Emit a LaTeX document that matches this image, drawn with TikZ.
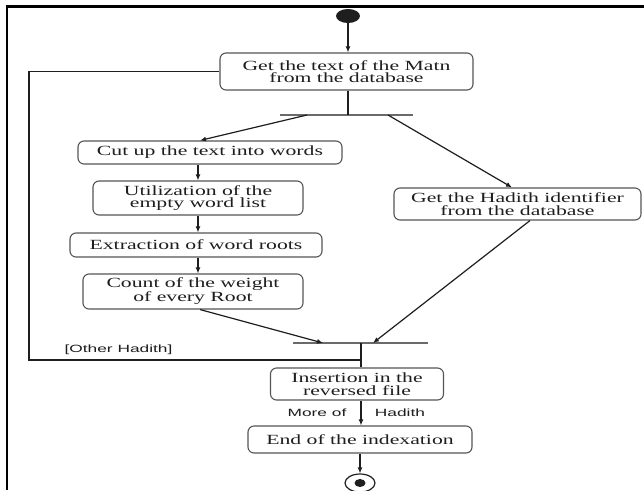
\documentclass[tikz,border=0pt]{standalone}
\usepackage{fontspec}
\setmainfont{Liberation Serif}
\newfontfamily\boxfont[FakeStretch=1.55]{Liberation Serif}
\newfontfamily\guardfont[FakeStretch=1.65]{Liberation Sans}
\usetikzlibrary{arrows.meta,shapes.geometric}
\definecolor{boxgray}{HTML}{555555}
\definecolor{ink}{HTML}{1E1E1E}
\definecolor{bargray}{HTML}{6A6A6A}
\begin{document}
\begin{tikzpicture}[x=1pt,y=-1pt,
  act/.style={draw=boxgray, line width=1.1pt, rounded corners=6pt, fill=white,
    align=center, inner sep=0pt, text=ink,
    font=\boxfont\fontsize{14}{12.5}\selectfont},
  syncbar/.style={fill=bargray, minimum height=2.2pt, inner sep=0pt},
  flow/.style={draw=ink, line width=1.2pt},
  arr/.style={flow, -{Latex[length=6pt,width=5pt]}},
  guard/.style={text=ink, inner sep=0pt, font=\guardfont\fontsize{10.5}{12}\selectfont}]
\useasboundingbox (0,0) rectangle (644,490);
\fill[white] (0,0) rectangle (644,490);
% page frame (top and left rules)
\draw[line width=2.6pt] (644,6.3) -- (7,6.3) -- (7,490);

% start and end markers
\node[ellipse, fill=ink, minimum width=24pt, minimum height=14pt, inner sep=0pt] (start) at (348,16) {};
\node[ellipse, draw=ink, line width=1.2pt, fill=white, minimum width=30pt, minimum height=18pt, inner sep=0pt] (final) at (360,483) {};
\node[ellipse, fill=ink, minimum width=11pt, minimum height=8pt, inner sep=0pt] (finaldot) at (final) {};

% activities
\node[act, minimum width=253pt, minimum height=37pt] (matn) at (346.5,71.5) {Get the text of the Matn\\from the database};
\node[act, minimum width=264pt, minimum height=23pt] (cut) at (210,152.5) {Cut up the text into words};
\node[act, minimum width=210pt, minimum height=34pt] (util) at (198,198) {Utilization of the\\empty word list};
\node[act, minimum width=252pt, minimum height=24pt] (extr) at (196,245) {Extraction of word roots};
\node[act, minimum width=220pt, minimum height=35pt] (count) at (193,291.5) {Count of the weight\\of every Root};
\node[act, minimum width=247pt, minimum height=32pt] (had) at (517.5,204) {Get the Hadith identifier\\from the database};
\node[act, minimum width=173pt, minimum height=32pt] (ins) at (357,384) {Insertion in the\\reversed file};
\node[act, minimum width=224pt, minimum height=27pt] (end) at (360,439.5) {End of the indexation};

% fork and join bars
\node[syncbar, minimum width=133pt] (fork) at (346.5,115) {};
\node[syncbar, minimum width=135pt] (join) at (360.5,343) {};
\coordinate (jc) at (361,343);
\coordinate (loopR) at (361,360);
\coordinate (loopL) at (29,360);

% flows
\draw[arr] (start) -- (start |- matn.north);
\draw[flow] (start |- matn.south) -- (start |- fork.center);
\draw[arr] ([xshift=-39.5pt]fork.center) -- ([xshift=-10pt]cut.north);
\draw[arr] ([xshift=41.5pt]fork.center) -- ([xshift=-5.5pt]had.north);
\draw[arr] (util.north |- cut.south) -- (util.north);
\draw[arr] (util.south) -- (util.south |- extr.north);
\draw[arr] (util.south |- extr.south) -- (util.south |- count.north);
\draw[arr] ([xshift=7pt]count.south) -- ([xshift=-37.5pt]join.center);
\draw[arr] ([xshift=12.5pt]had.south) -- ([xshift=12.5pt]join.center);
\draw[flow] (jc) -- (jc |- ins.north);
\draw[flow] (loopR) -- (loopL) |- (matn.west);
\draw[arr] (jc |- ins.south) -- (jc |- end.north);
\draw[arr] (final |- end.south) -- (final.north);

% guards
\node[guard] (other) at (118.5,350) {[Other Hadith]};
\node[guard] (moreof) at (317,413) {More of};
\node[guard] (hadith) at (400,413) {Hadith};
\end{tikzpicture}
\end{document}
